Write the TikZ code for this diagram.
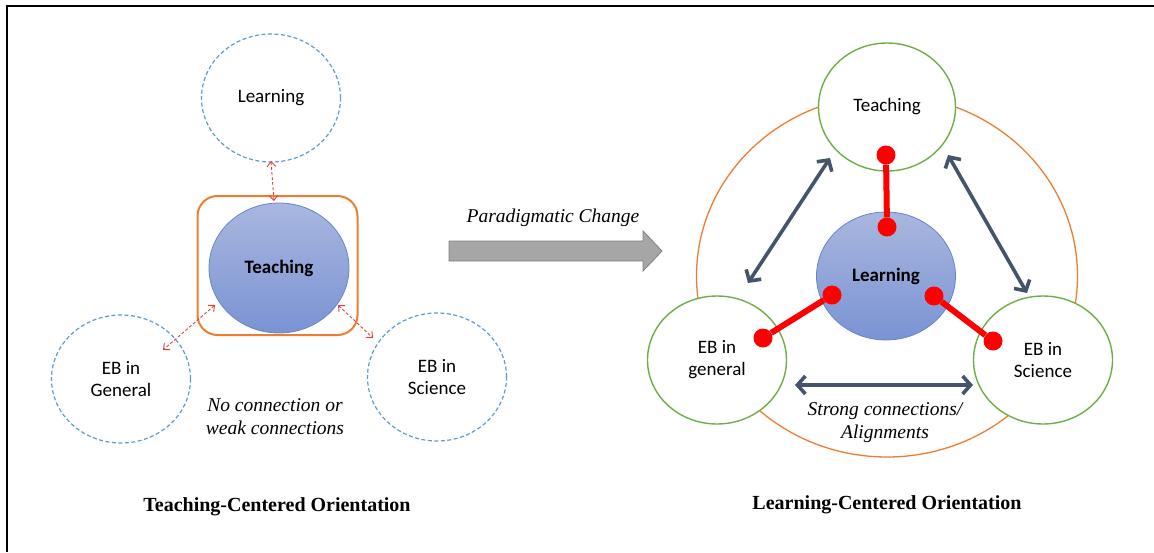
\documentclass[tikz,border=0pt]{standalone}
\usepackage{fontspec}
\setmainfont{Carlito}
\newfontfamily\notefont{Liberation Serif}
\usetikzlibrary{arrows.meta,shapes.geometric,calc}

\definecolor{dashblue}{HTML}{5B9BD5}
\definecolor{frameorange}{HTML}{ED7D31}
\definecolor{ringgreen}{HTML}{70AD47}
\definecolor{linkslate}{HTML}{44546A}
\definecolor{weakred}{HTML}{E2403A}
\definecolor{coretop}{HTML}{A9B7DF}
\definecolor{corebot}{HTML}{7A93D3}
\definecolor{coreedge}{HTML}{6586CC}
\definecolor{shiftgray}{HTML}{A6A6A6}

\begin{document}
\begin{tikzpicture}[x=1pt, y=-1pt,
    bubble/.style={ellipse, minimum width=139pt, minimum height=128pt,
                   inner sep=0pt, outer sep=0pt, align=center,
                   font=\fontsize{19}{22}\selectfont},
    loose/.style={bubble, draw=dashblue, line width=1.2pt,
                  dash pattern=on 4pt off 2.5pt},
    ring/.style={bubble, draw=ringgreen, line width=1.4pt, fill=white},
    core/.style={bubble, draw=coreedge, line width=0.8pt,
                 top color=coretop, bottom color=corebot,
                 font=\fontsize{19}{22}\selectfont\bfseries},
    weak/.style={{Straight Barb[length=5pt,width=9pt]}-{Straight Barb[length=5pt,width=9pt]},
                 draw=weakred, line width=0.9pt, dash pattern=on 3pt off 2pt},
    strong/.style={{Straight Barb[length=8pt,width=18pt]}-{Straight Barb[length=8pt,width=18pt]},
                   draw=linkslate, line width=3.6pt},
    tie/.style={draw=red, line width=6pt},
    dot/.style={circle, fill=red, minimum size=19pt, inner sep=0pt},
    note/.style={align=center, font=\notefont\itshape\fontsize{19.5}{23}\selectfont},
    caption/.style={font=\notefont\bfseries\fontsize{20}{24}\selectfont},
]
  \useasboundingbox (0,0) rectangle (1154,552);
  \draw[line width=1.8pt] (1154,6) -- (7,6) -- (7,552);

  % Teaching-centered side
  \node[draw=frameorange, line width=2pt, rounded corners=20pt,
        minimum width=160pt, minimum height=139pt] (frm) at (277.5,265.5) {};
  \node[loose] (lrnL) at (271,98) {Learning};
  \node[core, minimum width=140pt, minimum height=130pt] (tchL) at (279,268) {Teaching};
  \node[loose] (genL) at (121,379) {EB in\\General};
  \node[loose] (sciL) at (437,377) {EB in\\Science};

  \draw[weak] ($(lrnL)+(0,63)$) -- ($(tchL)+(-5,-67)$);
  \draw[weak] ($(tchL)+(-64,37)$) -- ($(genL)+(42,-29)$);
  \draw[weak] ($(tchL)+(59,37)$) -- ($(sciL)+(-64,-39)$);

  \node[note] (weaknote) at (275,417) {No connection or\\weak connections};
  \node[caption] (capL) at (277,507) {Teaching-Centered Orientation};

  % Shift arrow
  \draw[draw=gray, fill=shiftgray, line width=0.8pt]
    (449,241) -- (643,241) -- (643,231) -- (662,251) -- (643,271) -- (643,261) -- (449,261) -- cycle;
  \node[note] (shift) at (553,218) {Paradigmatic Change};

  % Learning-centered side
  \node[ellipse, draw=frameorange, line width=1.3pt, minimum width=381pt,
        minimum height=362pt, inner sep=0pt] (hub) at (887,276) {};
  \node[ring, minimum width=137pt] (tchR) at (887,107) {Teaching};
  \node[ring] (genR) at (717,360) {EB in\\general};
  \node[ring] (sciR) at (1043,360) {EB in\\Science};
  \node[core] (lrnR) at (886,276) {Learning};

  \draw[strong] ($(tchR)+(-57,51)$) -- ($(genR)+(31,-77)$);
  \draw[strong] ($(tchR)+(61,48)$) -- ($(sciR)+(-16,-67)$);
  \draw[strong] ($(genR)+(78,25)$) -- ($(sciR)+(-70,25)$);

  % Red ties
  \node[dot] (t1) at (886,155) {};
  \node[dot] (t2) at (887,227) {};
  \node[dot] (g1) at (832,295) {};
  \node[dot] (g2) at (763,338) {};
  \node[dot] (s1) at (934,296) {};
  \node[dot] (s2) at (993,341) {};
  \draw[tie] (t1) -- (t2);
  \draw[tie] (g1) -- (g2);
  \draw[tie] (s1) -- (s2);

  \node[note] (strongnote) at (885,423) {Strong connections/\\Alignments};
  \node[caption] (capR) at (887,505) {Learning-Centered Orientation};
\end{tikzpicture}
\end{document}
